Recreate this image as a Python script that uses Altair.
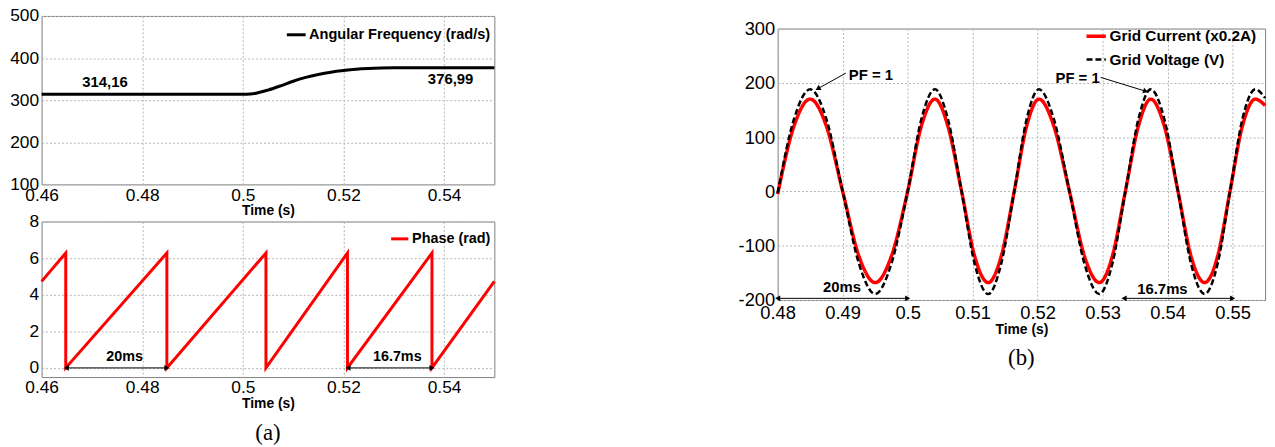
import altair as alt
import pandas as pd

# ---------------- data ----------------
# (a) top: angular frequency (rad/s)
freq_t = [0.46, 0.50, 0.5015, 0.503, 0.505, 0.5075, 0.51, 0.5125, 0.515, 0.5175,
          0.52, 0.5225, 0.525, 0.5275, 0.53, 0.535, 0.54, 0.55]
freq_w = [314.16, 314.16, 314.6, 317.5, 324, 334, 345, 354, 361, 366.5,
          370.5, 373.5, 375.3, 376.3, 376.8, 376.99, 376.99, 376.99]
freq_labels = ["314,16", "376,99"]
freq_label_t = [0.4726, 0.5413]
freq_label_v = [342, 350]

# (a) bottom: phase (rad) sawtooth
phase_t = [0.46, 0.4648, 0.4648, 0.4849, 0.4849, 0.5046, 0.5046, 0.5208, 0.5208,
           0.5376, 0.5376, 0.55]
phase_v = [4.73, 6.28, 0.0, 6.28, 0.0, 6.28, 0.0, 6.28, 0.0, 6.28, 0.0, 4.73]
phase_ann_text = ["20ms", "16.7ms"]
phase_ann_t = [0.4765, 0.5307]
phase_ann_v = [0.62, 0.62]
phase_arrow_t1 = [0.4649, 0.5209]
phase_arrow_t2 = [0.4849, 0.5376]
phase_arrow_v = [0.0, 0.0]

# (b) grid current / voltage
grid_t = [0.4800, 0.4825, 0.4850, 0.4875, 0.4900, 0.4925, 0.4950, 0.4975, 0.5000,
          0.5021, 0.5042, 0.5062, 0.5083, 0.5103, 0.5124, 0.5144, 0.5164,
          0.5183, 0.5202, 0.5225, 0.5249, 0.5272, 0.5295, 0.5315, 0.5335,
          0.5355, 0.5374, 0.5395, 0.5416, 0.5436, 0.5457, 0.5477, 0.5496,
          0.5515, 0.5535, 0.5550]
volt = [-3, 133, 188, 133, 0, -133, -189, -133, 0,
        133, 188, 133, 0, -133, -189, -133, 0,
        133, 188, 133, 0, -133, -189, -133, 0,
        133, 188, 133, 0, -133, -189, -133, 0,
        133, 188, 172]
curr = [-5, 120, 170, 120, 0, -119, -168, -119, 0,
        120, 170, 120, 0, -119, -168, -119, 0,
        120, 170, 120, 0, -119, -168, -119, 0,
        120, 170, 120, 0, -119, -168, -119, 0,
        120, 170, 158]
series_names = ["Grid Current (x0.2A)", "Grid Voltage (V)"]

grid_ann_text = ["20ms", "16.7ms"]
grid_ann_t = [0.4899, 0.5392]
grid_ann_v = [-177, -179]
grid_arrow_t1 = [0.4800, 0.5333]
grid_arrow_t2 = [0.5000, 0.5500]
grid_arrow_v = [-197, -197]

pf_text = ["PF = 1", "PF = 1"]
pf_text_t = [0.4908, 0.5297]
pf_text_v = [215, 208]
pf_align = ["left", "right"]
pf_tail_t = [0.4905, 0.5297]
pf_tail_v = [218, 210]
pf_head_t = [0.4863, 0.5365]
pf_head_v = [190, 185]
pf_head_angle = [241, 107]

FONT = "Liberation Sans"
RED = "#ff0000"
BLACK = "#000000"
minus_fix = "replace(datum.label, '\u2212', '-')"


def leg(x, y, size, fs):
    return alt.Legend(orient="none", legendX=x, legendY=y, title=None, symbolSize=size,
                      labelFontSize=fs, padding=0, labelOffset=2, rowPadding=4,
                      labelLimit=400)


def xa(field, domain, values, fs, lp):
    return alt.X(field, scale=alt.Scale(domain=domain, nice=False, zero=False),
                 axis=alt.Axis(values=values, format=".2~f", title="Time (s)",
                               labelFontSize=fs, labelPadding=lp, titlePadding=0,
                               labelOverlap=False, tickCount=len(values)))


def ya(field, domain, values, fs):
    return alt.Y(field, scale=alt.Scale(domain=domain, nice=False, zero=False),
                 axis=alt.Axis(values=values, title=None, labelFontSize=fs,
                               labelPadding=3, labelExpr=minus_fix, labelOverlap=False,
                               tickCount=len(values)))


# ---------------- (a) top panel ----------------
XT_DOM, XT_VAL = [0.46, 0.55], [0.46, 0.48, 0.5, 0.52, 0.54]
YT_DOM, YT_VAL = [100, 500], [100, 200, 300, 400, 500]
df_f = pd.DataFrame({"t": freq_t, "v": freq_w, "s": "Angular Frequency (rad/s)"})
top_line = alt.Chart(df_f).mark_line(strokeWidth=3, interpolate="monotone").encode(
    x=xa("t:Q", XT_DOM, XT_VAL, 17.5, 2), y=ya("v:Q", YT_DOM, YT_VAL, 17.5),
    color=alt.Color("s:N", scale=alt.Scale(range=[BLACK]),
                    legend=leg(246, 8, 361, 14.7)))
df_fl = pd.DataFrame({"t": freq_label_t, "v": freq_label_v, "txt": freq_labels})
top_text = alt.Chart(df_fl).mark_text(font=FONT, fontSize=15, fontWeight="bold",
                                      color=BLACK).encode(
    x=xa("t:Q", XT_DOM, XT_VAL, 17.5, 2), y=ya("v:Q", YT_DOM, YT_VAL, 17.5),
    text="txt:N")
top = alt.layer(top_line, top_text).properties(width=457, height=170)

# ---------------- (a) bottom panel ----------------
YB_DOM, YB_VAL = [-0.5, 8], [0, 2, 4, 6, 8]
df_p = pd.DataFrame({"t": phase_t, "v": phase_v, "i": list(range(len(phase_t))),
                     "s": "Phase (rad)"})
bot_line = alt.Chart(df_p).mark_line(strokeWidth=3).encode(
    x=xa("t:Q", XT_DOM, XT_VAL, 17.5, 2), y=ya("v:Q", YB_DOM, YB_VAL, 17.5),
    order="i:Q",
    color=alt.Color("s:N", scale=alt.Scale(range=[RED]),
                    legend=leg(351, 7, 300, 14.5)))
df_pa = pd.DataFrame({"t": phase_ann_t, "v": phase_ann_v, "txt": phase_ann_text})
bot_text = alt.Chart(df_pa).mark_text(font=FONT, fontSize=14.5, fontWeight="bold",
                                      color=BLACK).encode(
    x=xa("t:Q", XT_DOM, XT_VAL, 17.5, 2), y=ya("v:Q", YB_DOM, YB_VAL, 17.5),
    text="txt:N")
df_parr = pd.DataFrame({"t": phase_arrow_t1, "t2": phase_arrow_t2, "v": phase_arrow_v})
bot_rule = alt.Chart(df_parr).mark_rule(color=BLACK, strokeWidth=1).encode(
    x=xa("t:Q", XT_DOM, XT_VAL, 17.5, 2), x2="t2:Q",
    y=ya("v:Q", YB_DOM, YB_VAL, 17.5))
bot_h1 = alt.Chart(df_parr).mark_point(shape="triangle-left", filled=True, color=BLACK,
                                       size=35, opacity=1).encode(
    x=xa("t:Q", XT_DOM, XT_VAL, 17.5, 2), y=ya("v:Q", YB_DOM, YB_VAL, 17.5))
bot_h2 = alt.Chart(df_parr).mark_point(shape="triangle-right", filled=True, color=BLACK,
                                       size=35, opacity=1).encode(
    x=xa("t2:Q", XT_DOM, XT_VAL, 17.5, 2), y=ya("v:Q", YB_DOM, YB_VAL, 17.5))
bottom = alt.layer(bot_line, bot_rule, bot_h1, bot_h2, bot_text).properties(
    width=457, height=157,
    title=alt.TitleParams("(a)", orient="bottom", font="Liberation Serif", fontSize=23,
                          fontWeight="normal", color=BLACK, offset=12, frame="group",
                          anchor="middle"))

left = alt.vconcat(top, bottom, spacing=37.5, bounds="flush").resolve_scale(
    color="independent").resolve_legend(color="independent")

# ---------------- (b) panel ----------------
XR_DOM, XR_VAL = [0.48, 0.555], [0.48, 0.49, 0.5, 0.51, 0.52, 0.53, 0.54, 0.55]
YR_DOM, YR_VAL = [-200, 300], [-200, -100, 0, 100, 200, 300]
df_g = pd.DataFrame({
    "t": grid_t + grid_t,
    "v": curr + volt,
    "s": [series_names[0]] * len(grid_t) + [series_names[1]] * len(grid_t),
})
r_lines = alt.Chart(df_g).mark_line(interpolate="monotone").encode(
    x=xa("t:Q", XR_DOM, XR_VAL, 18.5, 4), y=ya("v:Q", YR_DOM, YR_VAL, 18.5),
    color=alt.Color("s:N", scale=alt.Scale(domain=series_names, range=[RED, BLACK]),
                    legend=leg(310, 9, 380, 15.5)),
    strokeDash=alt.StrokeDash("s:N", scale=alt.Scale(domain=series_names,
                                                     range=[[1, 0], [6, 3]]),
                              legend=leg(310, 9, 380, 15.5)),
    strokeWidth=alt.StrokeWidth("s:N", scale=alt.Scale(domain=series_names,
                                                       range=[3.5, 2.5]), legend=None),
)
df_ga = pd.DataFrame({"t": grid_ann_t, "v": grid_ann_v, "txt": grid_ann_text})
r_text = alt.Chart(df_ga).mark_text(font=FONT, fontSize=15, fontWeight="bold",
                                    color=BLACK).encode(
    x=xa("t:Q", XR_DOM, XR_VAL, 18.5, 4), y=ya("v:Q", YR_DOM, YR_VAL, 18.5),
    text="txt:N")
df_garr = pd.DataFrame({"t": grid_arrow_t1, "t2": grid_arrow_t2, "v": grid_arrow_v})
r_rule = alt.Chart(df_garr).mark_rule(color=BLACK, strokeWidth=1).encode(
    x=xa("t:Q", XR_DOM, XR_VAL, 18.5, 4), x2="t2:Q", y=ya("v:Q", YR_DOM, YR_VAL, 18.5))
r_h1 = alt.Chart(df_garr).mark_point(shape="triangle-left", filled=True, color=BLACK,
                                     size=35, opacity=1).encode(
    x=xa("t:Q", XR_DOM, XR_VAL, 18.5, 4), y=ya("v:Q", YR_DOM, YR_VAL, 18.5))
r_h2 = alt.Chart(df_garr).mark_point(shape="triangle-right", filled=True, color=BLACK,
                                     size=35, opacity=1).encode(
    x=xa("t2:Q", XR_DOM, XR_VAL, 18.5, 4), y=ya("v:Q", YR_DOM, YR_VAL, 18.5))
df_pf = pd.DataFrame({"tt": pf_text_t, "tv": pf_text_v, "txt": pf_text, "al": pf_align,
                      "t1": pf_tail_t, "v1": pf_tail_v, "t2": pf_head_t, "v2": pf_head_v,
                      "ang": pf_head_angle})
pf_left = alt.Chart(df_pf[df_pf.al == "left"]).mark_text(
    font=FONT, fontSize=15, fontWeight="bold", color=BLACK, align="left", dx=1).encode(
    x=xa("tt:Q", XR_DOM, XR_VAL, 18.5, 4), y=ya("tv:Q", YR_DOM, YR_VAL, 18.5),
    text="txt:N")
pf_right = alt.Chart(df_pf[df_pf.al == "right"]).mark_text(
    font=FONT, fontSize=15, fontWeight="bold", color=BLACK, align="right", dx=-1).encode(
    x=xa("tt:Q", XR_DOM, XR_VAL, 18.5, 4), y=ya("tv:Q", YR_DOM, YR_VAL, 18.5),
    text="txt:N")
pf_rule = alt.Chart(df_pf).mark_rule(color=BLACK, strokeWidth=1).encode(
    x=xa("t1:Q", XR_DOM, XR_VAL, 18.5, 4), y=ya("v1:Q", YR_DOM, YR_VAL, 18.5),
    x2="t2:Q", y2="v2:Q")
pf_head = alt.Chart(df_pf).mark_point(shape="triangle", filled=True, color=BLACK,
                                      size=35, opacity=1).encode(
    x=xa("t2:Q", XR_DOM, XR_VAL, 18.5, 4), y=ya("v2:Q", YR_DOM, YR_VAL, 18.5),
    angle=alt.Angle("ang:Q", scale=None))
right = alt.layer(r_lines, r_rule, r_h1, r_h2, r_text, pf_rule, pf_head,
                  pf_left, pf_right).properties(
    width=492, height=274,
    title=alt.TitleParams("(b)", orient="bottom", font="Liberation Serif", fontSize=23,
                          fontWeight="normal", color=BLACK, offset=11, frame="group",
                          anchor="middle"))

spacer = alt.Chart(pd.DataFrame({"a": [0]})).mark_point(opacity=0).encode(
    x=alt.value(0), y=alt.value(0)).properties(
    width=1, height=1, view=alt.ViewBackground(strokeOpacity=0))

right_col = alt.vconcat(spacer, right, spacing=11.7, bounds="flush")

chart = alt.hconcat(left, right_col, spacing=238).resolve_scale(
    color="independent", strokeDash="independent", strokeWidth="independent"
).resolve_legend(color="independent", strokeDash="independent").properties(
    padding={"left": 9, "top": 4, "right": 2, "bottom": 0}, background="white"
).configure_view(stroke="#808080", strokeWidth=1).configure_axis(
    grid=True, gridColor="#b5b5b5", gridDash=[2, 2], gridWidth=1, domain=False,
    ticks=False, labelColor=BLACK, labelFont=FONT, titleFont=FONT,
    titleFontWeight="bold", titleFontSize=14, titleColor=BLACK, labelFlush=False,
    labelOverlap=False
).configure_legend(labelFont=FONT, labelFontWeight="bold", labelColor=BLACK,
                   symbolType="stroke", symbolStrokeWidth=3)

chart.save("out.html", embed_options={"renderer": "svg", "actions": False})
